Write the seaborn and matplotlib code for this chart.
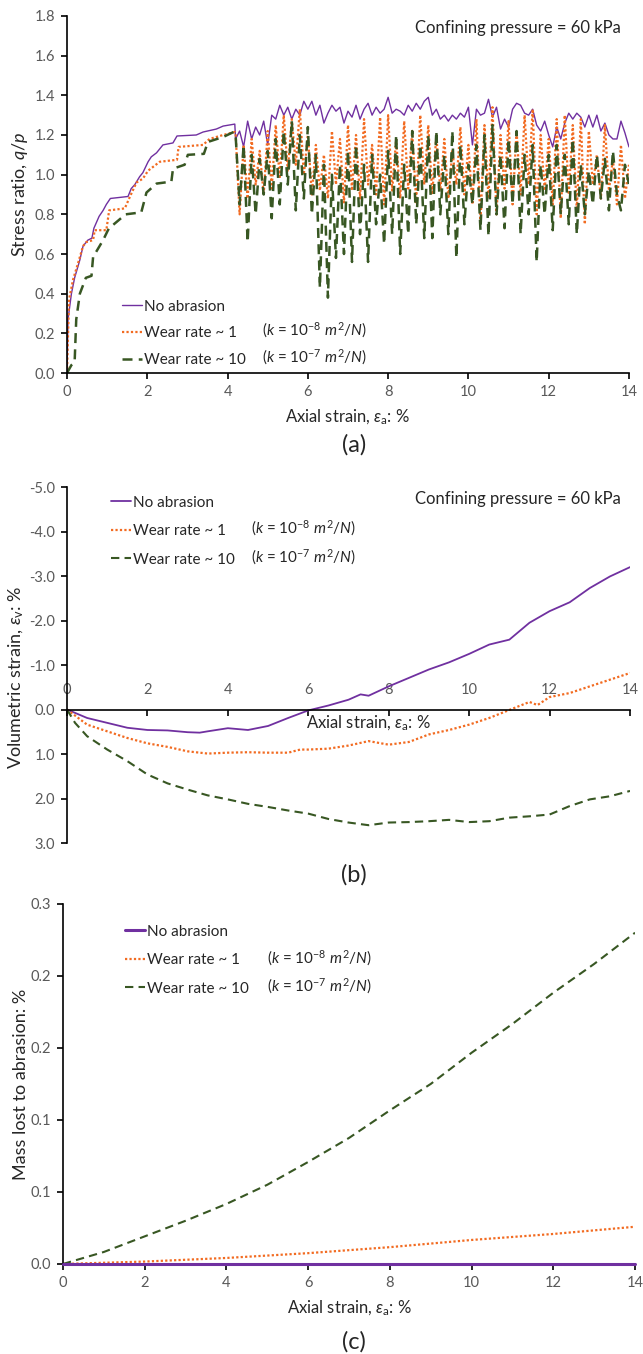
import numpy as np
import matplotlib
matplotlib.use("Agg")
import matplotlib.pyplot as plt
import seaborn as sns
from matplotlib.ticker import FixedLocator, FormatStrFormatter, MultipleLocator

# ---------------- (a) stress ratio q/p ----------------
# loading branch, read point by point
a_none_x0 = [0, 0.025, 0.11, 0.19, 0.32, 0.40, 0.52, 0.62, 0.67, 0.80, 0.90, 0.98, 1.08, 1.52,
             1.60, 1.69, 1.81, 1.89, 2.02, 2.10, 2.23, 2.39, 2.64, 2.74, 3.22, 3.39, 3.72, 3.89, 4.18]
a_none_y0 = [0, 0.27, 0.40, 0.48, 0.57, 0.64, 0.67, 0.68, 0.73, 0.79, 0.82, 0.85, 0.88, 0.89,
             0.93, 0.95, 0.99, 1.01, 1.065, 1.09, 1.11, 1.15, 1.16, 1.195, 1.20, 1.215, 1.23, 1.245, 1.255]
a_w1_x0 = [0, 0.05, 0.15, 0.27, 0.40, 0.48, 0.65, 0.69, 0.98, 1.05, 1.44, 1.57, 1.73, 1.89,
           2.02, 2.31, 2.74, 2.78, 3.39, 3.55, 3.89, 4.18]
a_w1_y0 = [0, 0.37, 0.47, 0.55, 0.64, 0.66, 0.67, 0.72, 0.72, 0.82, 0.83, 0.89, 0.96, 0.98,
           1.02, 1.065, 1.075, 1.14, 1.15, 1.18, 1.20, 1.215]
a_w10_x0 = [0, 0.11, 0.19, 0.23, 0.32, 0.47, 0.61, 0.65, 0.90, 1.02, 1.05, 1.46, 1.85, 1.98,
            2.23, 2.60, 2.64, 2.93, 3.01, 3.41, 3.51, 3.89, 4.15]
a_w10_y0 = [0, 0.04, 0.055, 0.27, 0.40, 0.48, 0.49, 0.585, 0.67, 0.72, 0.73, 0.80, 0.81, 0.91,
            0.955, 0.965, 1.03, 1.05, 1.10, 1.105, 1.165, 1.19, 1.215]

# fluctuating branch, strain 4.2 ... 14.0 every 0.1 %
a_grid = np.round(np.arange(4.2, 14.01, 0.1), 1)
a_none_osc = [1.18, 1.22, 1.14, 1.27, 1.18, 1.24, 1.20, 1.27, 1.15, 1.30,
              1.28, 1.35, 1.30, 1.34, 1.28, 1.33, 1.30, 1.37, 1.33, 1.37,
              1.30, 1.35, 1.26, 1.31, 1.35, 1.32, 1.34, 1.26, 1.32, 1.29,
              1.35, 1.28, 1.33, 1.36, 1.30, 1.34, 1.31, 1.33, 1.39, 1.31,
              1.33, 1.32, 1.30, 1.35, 1.32, 1.36, 1.33, 1.37, 1.39, 1.30,
              1.33, 1.28, 1.30, 1.27, 1.30, 1.28, 1.31, 1.29, 1.34, 1.15,
              1.33, 1.30, 1.31, 1.38, 1.29, 1.34, 1.23, 1.28, 1.24, 1.33,
              1.36, 1.35, 1.31, 1.30, 1.33, 1.25, 1.22, 1.27, 1.20, 1.14,
              1.24, 1.18, 1.26, 1.31, 1.28, 1.31, 1.29, 1.24, 1.30, 1.24,
              1.30, 1.22, 1.26, 1.20, 1.18, 1.18, 1.27, 1.21, 1.14]
a_w1_osc = [1.21, 0.80, 1.15, 0.88, 1.18, 0.95, 1.12, 0.90, 1.22, 0.93,
            1.25, 0.98, 1.30, 1.02, 1.28, 1.05, 1.33, 1.00, 1.20, 0.90,
            1.15, 0.92, 1.10, 0.88, 1.22, 0.95, 1.18, 0.86, 1.25, 0.92,
            1.20, 0.88, 1.28, 0.95, 1.15, 0.90, 1.29, 0.85, 1.30, 0.92,
            1.18, 0.88, 1.27, 0.93, 1.22, 0.86, 1.30, 0.95, 1.25, 0.90,
            1.20, 0.92, 1.18, 0.88, 1.12, 0.95, 1.24, 0.90, 1.15, 0.85,
            1.28, 0.76, 1.25, 0.88, 1.34, 0.80, 1.20, 0.93, 1.27, 0.85,
            1.22, 0.90, 1.30, 0.95, 1.33, 0.80, 1.20, 0.92, 1.18, 0.85,
            1.28, 0.78, 1.30, 0.90, 1.25, 0.82, 1.28, 0.75, 1.22, 0.95,
            1.10, 0.88, 1.25, 0.92, 1.08, 0.85, 1.15, 0.88, 1.05]
a_w10_osc = [1.20, 0.85, 1.15, 0.66, 1.10, 0.80, 1.08, 0.90, 1.12, 0.78,
             1.18, 0.85, 1.22, 0.95, 1.27, 0.82, 1.20, 0.88, 1.24, 0.80,
             1.10, 0.43, 1.05, 0.38, 1.00, 0.58, 1.05, 0.60, 1.12, 0.56,
             1.15, 0.70, 1.05, 0.56, 1.10, 0.75, 1.00, 0.65, 1.12, 0.70,
             1.20, 0.60, 1.05, 0.70, 1.22, 0.75, 1.15, 0.68, 1.20, 0.68,
             1.22, 0.80, 1.10, 0.70, 1.22, 0.58, 1.15, 0.75, 1.05, 0.85,
             1.15, 0.72, 1.20, 0.69, 1.25, 0.80, 1.10, 0.73, 1.18, 0.85,
             1.22, 0.70, 1.10, 0.80, 1.15, 0.56, 1.05, 0.80, 1.10, 0.72,
             1.15, 0.80, 1.10, 0.75, 1.18, 0.70, 1.05, 0.80, 1.02, 0.85,
             1.10, 0.88, 1.08, 0.82, 1.12, 0.90, 0.82, 1.05, 0.95]

# ---------------- (b) volumetric strain ----------------
b_none_x = [0, 0.5, 1, 1.5, 2, 2.5, 3, 3.3, 3.5, 4, 4.5, 5, 5.5, 6, 6.5, 7, 7.3, 7.5, 8, 8.5,
            9, 9.5, 10, 10.5, 11, 11.5, 12, 12.5, 13, 13.5, 14]
b_none_y = [0, 0.19, 0.30, 0.41, 0.46, 0.47, 0.51, 0.52, 0.49, 0.42, 0.46, 0.37, 0.19, 0.02,
            -0.09, -0.22, -0.34, -0.31, -0.52, -0.71, -0.90, -1.06, -1.25, -1.46, -1.57, -1.95,
            -2.21, -2.41, -2.73, -2.99, -3.20]
b_w1_x = [0, 0.5, 1, 1.5, 2, 2.5, 3, 3.5, 4, 4.5, 5, 5.5, 5.8, 6, 6.5, 7, 7.5, 8, 8.5, 9,
          9.5, 10, 10.5, 11, 11.5, 11.7, 12, 12.5, 13, 13.5, 14]
b_w1_y = [0, 0.34, 0.49, 0.64, 0.76, 0.84, 0.94, 0.99, 0.97, 0.96, 0.97, 0.97, 0.90, 0.90,
          0.88, 0.81, 0.71, 0.79, 0.73, 0.56, 0.46, 0.34, 0.19, 0.01, -0.17, -0.10, -0.28,
          -0.37, -0.52, -0.67, -0.82]
b_w10_x = [0, 0.2, 0.5, 1, 1.5, 2, 2.5, 3, 3.5, 4, 4.5, 5, 5.5, 6, 6.5, 7, 7.5, 8, 8.5, 9,
           9.5, 10, 10.5, 11, 11.5, 12, 12.5, 13, 13.5, 14]
b_w10_y = [0, 0.30, 0.60, 0.90, 1.16, 1.46, 1.66, 1.80, 1.93, 2.02, 2.12, 2.19, 2.27, 2.34,
           2.46, 2.54, 2.60, 2.54, 2.53, 2.51, 2.48, 2.53, 2.51, 2.43, 2.40, 2.36, 2.17, 2.02,
           1.95, 1.83]

# ---------------- (c) mass lost ----------------
c_x = [0, 1, 2, 3, 4, 5, 6, 7, 8, 9, 10, 11, 12, 13, 14]
c_none = [0, 0, 0, 0, 0, 0, 0, 0, 0, 0, 0, 0, 0, 0, 0]
c_w1 = [0, 0.001, 0.002, 0.0035, 0.005, 0.007, 0.009, 0.0115, 0.014, 0.017, 0.020, 0.0225,
        0.025, 0.028, 0.031]
c_w10 = [0, 0.010, 0.023, 0.036, 0.050, 0.066, 0.085, 0.105, 0.128, 0.150, 0.176, 0.200,
         0.226, 0.250, 0.276]

labels = ["No abrasion", "Wear rate ~ 1", "Wear rate ~ 10"]
k_texts = [r"($k$ = 10$^{-8}$ $m^{2}/N$)", r"($k$ = 10$^{-7}$ $m^{2}/N$)"]

purple = "#7030A0"
orange = "#F26B21"
green = "#385723"
grey = "#595959"

sns.set_style("ticks")
plt.rcParams["font.family"] = ["Lato", "DejaVu Sans"]
plt.rcParams["mathtext.fontset"] = "custom"
plt.rcParams["mathtext.rm"] = "Lato"
plt.rcParams["mathtext.it"] = "Lato:italic"
plt.rcParams["mathtext.sf"] = "Lato"
plt.rcParams["axes.linewidth"] = 1.2
plt.rcParams["axes.edgecolor"] = "black"

fig = plt.figure(figsize=(6.43, 13.54), dpi=100)
ax1 = fig.add_axes([0.1042, 0.7245, 0.874, 0.2637])
ax2 = fig.add_axes([0.1042, 0.3774, 0.8756, 0.2629])
ax3 = fig.add_axes([0.098, 0.0665, 0.8896, 0.2659])

xlab = r"Axial strain, $\varepsilon_{\rm a}$: %"
tick_fs = 10.5
leg_fs = 11
lab_fs = 12
ylab_fs = 13


def style_axis(ax):
    ax.spines["top"].set_visible(False)
    ax.spines["right"].set_visible(False)
    ax.tick_params(axis="both", colors="black", labelcolor=grey, labelsize=tick_fs,
                   length=4, width=1.2, direction="out", pad=4.5)


def add_legend(ax, x0, y0, kx, ky, spacing):
    ax.legend(labels=labels, loc="upper left", bbox_to_anchor=(x0, y0), frameon=False,
              fontsize=leg_fs, handlelength=1.3, handletextpad=0.15, labelspacing=spacing,
              borderpad=0, borderaxespad=0)
    for t, yy in zip(k_texts, ky):
        ax.text(kx, yy, t, transform=ax.transAxes, fontsize=leg_fs, va="center", ha="left")


# ---- panel (a)
sns.lineplot(x=a_none_x0 + list(a_grid), y=a_none_y0 + a_none_osc, ax=ax1, color=purple,
             lw=1.0, sort=False, estimator=None)
sns.lineplot(x=a_w1_x0 + list(a_grid), y=a_w1_y0 + a_w1_osc, ax=ax1, color=orange,
             lw=1.6, linestyle=(0, (1, 1)), sort=False, estimator=None)
sns.lineplot(x=a_w10_x0 + list(a_grid), y=a_w10_y0 + a_w10_osc, ax=ax1, color=green,
             lw=1.8, linestyle=(0, (4, 2.5)), sort=False, estimator=None)
ax1.set_xlim(0, 14)
ax1.set_ylim(0, 1.8)
ax1.xaxis.set_major_locator(MultipleLocator(2))
ax1.yaxis.set_major_locator(MultipleLocator(0.2))
ax1.yaxis.set_major_formatter(FormatStrFormatter("%.1f"))
style_axis(ax1)
ax1.set_xlabel(xlab, fontsize=lab_fs)
ax1.set_ylabel(r"Stress ratio, $q/p$", fontsize=ylab_fs)
ax1.xaxis.set_label_coords(0.5, -0.098)
ax1.yaxis.set_label_coords(-0.066, 0.5)
ax1.text(0.986, 0.966, "Confining pressure = 60 kPa", transform=ax1.transAxes,
         ha="right", va="center", fontsize=12)
add_legend(ax1, 0.098, 0.205, 0.347, [0.119, 0.044], 0.82)

# ---- panel (b)
sns.lineplot(x=b_none_x, y=b_none_y, ax=ax2, color=purple, lw=1.3, sort=False, estimator=None)
sns.lineplot(x=b_w1_x, y=b_w1_y, ax=ax2, color=orange, lw=1.6, linestyle=(0, (1, 1)),
             sort=False, estimator=None)
sns.lineplot(x=b_w10_x, y=b_w10_y, ax=ax2, color=green, lw=1.5, linestyle=(0, (4, 2.5)),
             sort=False, estimator=None)
ax2.set_xlim(0, 14)
ax2.set_ylim(3, -5)
ax2.yaxis.set_major_locator(MultipleLocator(1))
ax2.yaxis.set_major_formatter(FormatStrFormatter("%.1f"))
ax2.xaxis.set_major_locator(MultipleLocator(2))
ax2.spines["right"].set_visible(False)
ax2.spines["bottom"].set_visible(False)
ax2.spines["top"].set_position(("data", 0))
ax2.xaxis.set_ticks_position("top")
ax2.tick_params(axis="y", colors="black", labelcolor=grey, labelsize=tick_fs, length=4,
                width=1.2, direction="out", pad=4.5)
ax2.tick_params(axis="x", colors="black", labelcolor=grey, labelsize=tick_fs, length=4,
                width=1.2, direction="in", pad=9)
ax2.set_xlabel("")
ax2.set_ylabel(r"Volumetric strain, $\varepsilon_{\rm v}$: %", fontsize=ylab_fs)
ax2.yaxis.set_label_coords(-0.072, 0.466)
ax2.text(7.5, 0.3, xlab, ha="center", va="center", fontsize=lab_fs)
ax2.text(0.984, 0.966, "Confining pressure = 60 kPa", transform=ax2.transAxes,
         ha="right", va="center", fontsize=12)
add_legend(ax2, 0.078, 0.976, 0.327, [0.885, 0.803], 0.95)

# ---- panel (c)
sns.lineplot(x=c_x, y=c_none, ax=ax3, color=purple, lw=2.2, sort=False, estimator=None,
             zorder=5, clip_on=False)
sns.lineplot(x=c_x, y=c_w1, ax=ax3, color=orange, lw=1.6, linestyle=(0, (1, 1)),
             sort=False, estimator=None)
sns.lineplot(x=c_x, y=c_w10, ax=ax3, color=green, lw=1.5, linestyle=(0, (4, 2.5)),
             sort=False, estimator=None)
ax3.set_xlim(0, 14)
ax3.set_ylim(0, 0.3)
ax3.xaxis.set_major_locator(MultipleLocator(2))
ax3.yaxis.set_major_locator(FixedLocator([0, 0.06, 0.12, 0.18, 0.24, 0.3]))
ax3.yaxis.set_major_formatter(FormatStrFormatter("%.1f"))
style_axis(ax3)
ax3.set_xlabel(xlab, fontsize=lab_fs)
ax3.set_ylabel("Mass lost to abrasion: %", fontsize=ylab_fs)
ax3.xaxis.set_label_coords(0.5, -0.097)
ax3.yaxis.set_label_coords(-0.060, 0.5)
add_legend(ax3, 0.108, 0.942, 0.357, [0.85, 0.772], 0.95)

for lab, yy in [("(a)", 445), ("(b)", 875), ("(c)", 1342)]:
    fig.text(0.55, 1 - yy / 1354, lab, ha="center", va="center", fontsize=17)

fig.savefig("out.png", dpi=100)
